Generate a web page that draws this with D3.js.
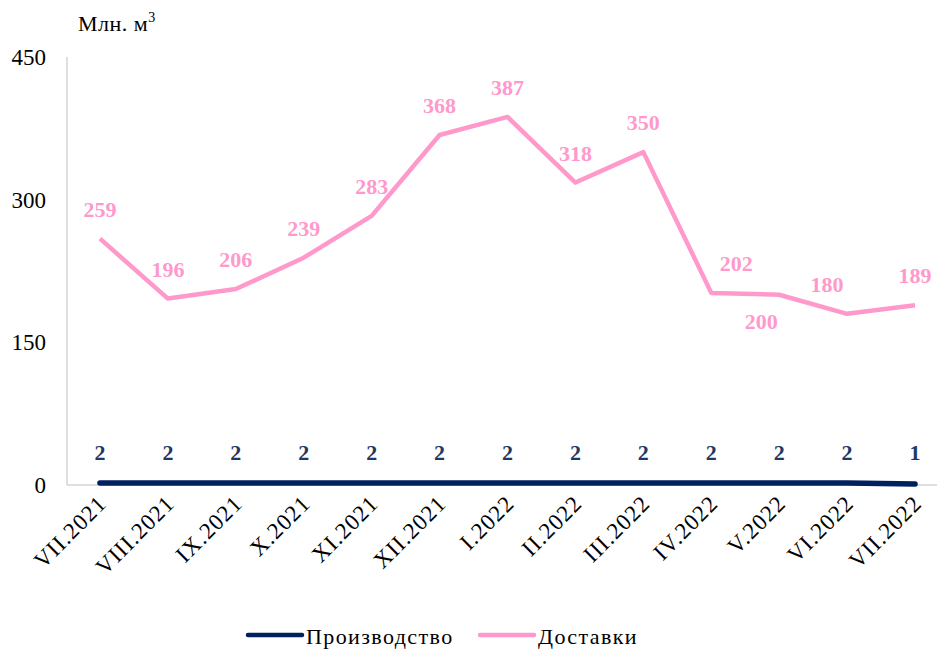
<!DOCTYPE html>
<html lang="ru">
<head>
<meta charset="utf-8">
<title>Производство и доставки</title>
<script src="https://cdn.jsdelivr.net/npm/d3@7"></script>
<style>
  body { margin: 0; background: #fff; }
  svg { font-family: "Liberation Serif", "Times New Roman", serif; }
</style>
</head>
<body>
<svg width="937" height="650"></svg>
<script>
// data
var months = ["VII.2021", "VIII.2021", "IX.2021", "X.2021", "XI.2021", "XII.2021",
  "I.2022", "II.2022", "III.2022", "IV.2022", "V.2022", "VI.2022", "VII.2022"];
var production = [2, 2, 2, 2, 2, 2, 2, 2, 2, 2, 2, 2, 1];
var deliveries = [259, 196, 206, 239, 283, 368, 387, 318, 350, 202, 200, 180, 189];
var yTicks = [0, 150, 300, 450];

var svg = d3.select("svg");

var x = d3.scalePoint().domain(months).range([66, 949]).padding(0.5);
var y = d3.scaleLinear().domain([0, 450]).range([485, 57]);

// axis lines
svg.append("line")
  .attr("x1", 67).attr("x2", 67).attr("y1", y(450)).attr("y2", y(0))
  .attr("stroke", "#bfbfbf").attr("stroke-width", 1);
svg.append("line")
  .attr("x1", 67).attr("x2", 937).attr("y1", y(0)).attr("y2", y(0))
  .attr("stroke", "#bfbfbf").attr("stroke-width", 1);

// y labels
svg.selectAll(".ytick").data(yTicks).enter().append("text")
  .attr("x", 46).attr("y", function(d) { return y(d); })
  .attr("dy", "0.35em")
  .attr("text-anchor", "end")
  .attr("font-size", 23).attr("fill", "#000")
  .text(function(d) { return d; });

// unit title
var ttl = svg.append("text").attr("x", 78).attr("y", 31)
  .attr("font-size", 22).attr("fill", "#000").attr("letter-spacing", 0.5);
ttl.append("tspan").text("Млн. м");
ttl.append("tspan").attr("dy", -9).attr("font-size", 14).text("3");

// x labels
svg.selectAll(".xlab").data(months).enter().append("text")
  .attr("text-anchor", "end")
  .attr("font-size", 23).attr("fill", "#000").attr("letter-spacing", 1)
  .attr("transform", function(d) {
    return "translate(" + (x(d) + 8) + ",505) rotate(-45)";
  })
  .text(function(d) { return d; });

var line = d3.line()
  .x(function(d, i) { return x(months[i]); })
  .y(function(d) { return y(d); });

var pink = "#ff99cc", navy = "#002060";

svg.append("path").datum(deliveries)
  .attr("d", line).attr("fill", "none")
  .attr("stroke", pink).attr("stroke-width", 4.5)
  .attr("stroke-linejoin", "round");

svg.append("path").datum(production)
  .attr("d", line).attr("fill", "none")
  .attr("stroke", navy).attr("stroke-width", 5.5)
  .attr("stroke-linecap", "round");

// label nudges (Excel hand-placed labels)
var nudge = { 9: [25, 0], 10: [-18, 56], 11: [-20, 0] };

svg.selectAll(".dlab").data(deliveries).enter().append("text")
  .attr("x", function(d, i) { return x(months[i]) + (nudge[i] ? nudge[i][0] : 0); })
  .attr("y", function(d, i) { return y(d) - 22 + (nudge[i] ? nudge[i][1] : 0); })
  .attr("text-anchor", "middle")
  .attr("font-size", 22).attr("font-weight", "bold")
  .attr("fill", pink)
  .text(function(d) { return d; });

svg.selectAll(".plab").data(production).enter().append("text")
  .attr("x", function(d, i) { return x(months[i]); })
  .attr("y", 460)
  .attr("text-anchor", "middle")
  .attr("font-size", 22).attr("font-weight", "bold")
  .attr("fill", "#1f3864")
  .text(function(d) { return d; });

// legend
var legend = [{ name: "Производство", color: navy, x: 248 }, { name: "Доставки", color: pink, x: 480 }];
var lg = svg.selectAll(".lg").data(legend).enter().append("g");
lg.append("line")
  .attr("x1", function(d) { return d.x; }).attr("x2", function(d) { return d.x + 54; })
  .attr("y1", 635).attr("y2", 635)
  .attr("stroke", function(d) { return d.color; })
  .attr("stroke-width", 4.5).attr("stroke-linecap", "round");
lg.append("text")
  .attr("x", function(d) { return d.x + 58; }).attr("y", 644)
  .attr("font-size", 22).attr("fill", "#000").attr("letter-spacing", 1.4)
  .text(function(d) { return d.name; });
</script>
</body>
</html>
